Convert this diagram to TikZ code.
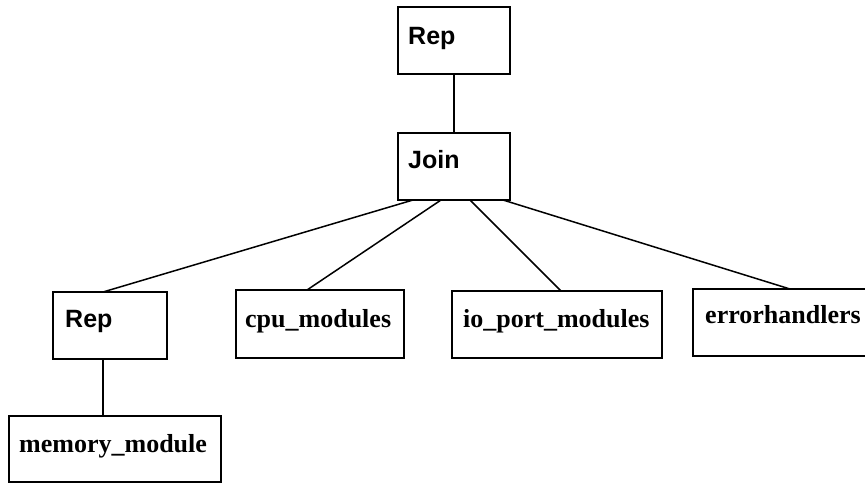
\documentclass[tikz,border=0pt]{standalone}
\usepackage{fontspec}
\setmainfont{Liberation Serif}
\newfontfamily\labelsans{Liberation Sans}
\begin{document}
\begin{tikzpicture}[x=1pt,y=-1pt,
  box/.style={draw=black, line width=1.6pt, rectangle, inner sep=0pt, outer sep=0pt, anchor=north west},
  opname/.style={anchor=base west, inner sep=0pt, font=\labelsans\bfseries\fontsize{25}{30}\selectfont},
  modname/.style={anchor=base west, inner sep=0pt, font=\bfseries\fontsize{26}{31}\selectfont},
  link/.style={draw=black, line width=1.5pt}]
\useasboundingbox (0,0) rectangle (865,483);

% boxes
\node[box, minimum width=112pt, minimum height=67pt] (rep1) at (398,7) {};
\node[box, minimum width=112pt, minimum height=67pt] (join) at (398,133) {};
\node[box, minimum width=114pt, minimum height=67pt] (rep2) at (53,292) {};
\node[box, minimum width=168pt, minimum height=68pt] (cpu) at (236,290) {};
\node[box, minimum width=210pt, minimum height=67pt] (io) at (452,291) {};
\node[box, minimum width=180pt, minimum height=67pt] (err) at (693,289) {};
\node[box, minimum width=212pt, minimum height=66pt] (mem) at (9,416) {};

% labels
\node[opname] (trep1) at ([xshift=10pt,yshift=-37pt]rep1.north west) {Rep};
\node[opname] (tjoin) at ([xshift=10pt,yshift=-35pt]join.north west) {Join};
\node[opname] (trep2) at ([xshift=12pt,yshift=-35pt]rep2.north west) {Rep};
\node[modname] (tcpu) at ([xshift=9pt,yshift=-37pt]cpu.north west) {cpu\_modules};
\node[modname] (tio) at ([xshift=11pt,yshift=-36pt]io.north west) {io\_port\_modules};
\node[modname] (terr) at ([xshift=12pt,yshift=-34pt]err.north west) {errorhandlers};
\node[modname] (tmem) at ([xshift=10pt,yshift=-36pt]mem.north west) {memory\_module};

% connectors
\draw[link] (rep1.south) -- (join.north);
\draw[link] ([xshift=15pt]join.south west) -- ([xshift=50pt]rep2.north west);
\draw[link] ([xshift=43pt]join.south west) -- ([xshift=71pt]cpu.north west);
\draw[link] ([xshift=72pt]join.south west) -- ([xshift=109pt]io.north west);
\draw[link] ([xshift=105pt]join.south west) -- ([xshift=97pt]err.north west);
\draw[link] ([xshift=50pt]rep2.south west) -- ([xshift=94pt]mem.north west);
\end{tikzpicture}
\end{document}
